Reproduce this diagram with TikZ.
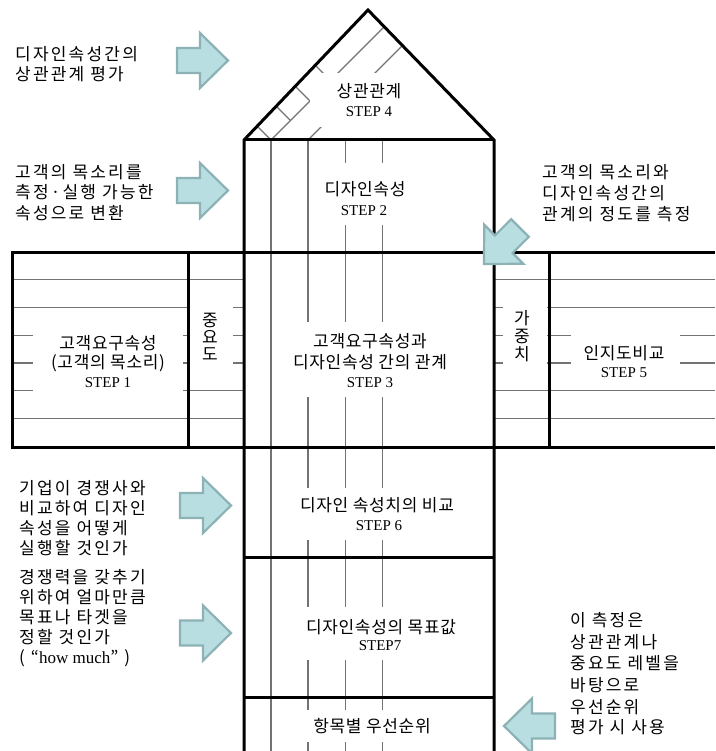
\documentclass[tikz,border=0pt]{standalone}
\usepackage{fontspec}
\newfontfamily\krlbl[LetterSpace=4]{Noto Sans CJK KR}
\newfontfamily\krnote[LetterSpace=13]{Noto Sans CJK KR}
\newfontfamily\serifstep{Liberation Serif}
\definecolor{arrowfill}{RGB}{185,222,225}
\definecolor{arrowline}{RGB}{140,178,181}
\begin{document}
\begin{tikzpicture}[x=1pt,y=-1pt,
  gridline/.style={line width=1.1pt, draw=black!55},
  wall/.style={line width=3pt, draw=black},
  mask/.style={fill=white},
  lbl/.style={font=\krlbl\fontsize{17}{17}\selectfont, inner sep=0pt, anchor=base},
  steplbl/.style={font=\serifstep\fontsize{15}{15}\selectfont, inner sep=0pt, anchor=base},
  note/.style={font=\krnote\fontsize{17}{17}\selectfont, inner sep=0pt, anchor=base west},
  arrowbody/.style={fill=arrowfill, draw=arrowline, line width=2.2pt},
  pics/blockarrow/.style={code={\draw[arrowbody] (0,-12.5) -- (23,-12.5) -- (23,-27.5) -- (51,0) -- (23,27.5) -- (23,12.5) -- (0,12.5) -- cycle;}}
]
\useasboundingbox (0,0) rectangle (715,751);
\fill[white] (0,0) rectangle (715,751);

% thin grid lines
\foreach \x in {271,308,345.5,382.5} \draw[gridline] (\x,140) -- (\x,751);
\foreach \y in {279.5,307.3,335.2,363,390.8,418.7} {
  \draw[gridline] (12,\y) -- (244,\y);
  \draw[gridline] (494,\y) -- (715,\y);
}
% roof grid
\draw[gridline] (271,140) -- (384.24,26.76);
\draw[gridline] (308,140) -- (402.45,45.55);
\draw[gridline] (271,140) -- (257.18,126.18);
\draw[gridline] (290.5,120.5) -- (276.22,106.22);
\draw[gridline] (310,101) -- (295.26,86.26);
\draw[gridline] (330.5,80.5) -- (315.28,65.28);

% white masks behind labels
\fill[mask] (310,73) rectangle (430,127);
\fill[mask] (318,163) rectangle (412,225);
\fill[mask] (292,322) rectangle (450,397);
\fill[mask] (33,318) rectangle (183,400);
\fill[mask] (190,298) rectangle (233,385);
\fill[mask] (503,298) rectangle (547,385);
\fill[mask] (571,320) rectangle (680,385);
\fill[mask] (290,488) rectangle (465,540);
\fill[mask] (295,607) rectangle (468,660);
\fill[mask] (300,710) rectangle (445,742);

% thick walls
\draw[wall] (244,751) -- (244,140) -- (368,10) -- (494,140) -- (494,751);
\draw[wall] (244,140) -- (494,140);
\draw[wall] (715,252) -- (12,252) -- (12,447) -- (715,447);
\draw[wall] (188,252) -- (188,447);
\draw[wall] (549,252) -- (549,447);
\draw[wall] (244,557) -- (494,557);
\draw[wall] (244,697) -- (494,697);

% diagram labels
\node[lbl] (roofa) at (369,98) {상관관계};
\node[steplbl] (roofb) at (369,117) {STEP 4};
\node[lbl] (dsa) at (365,196) {디자인속성};
\node[steplbl] (dsb) at (364,215) {STEP 2};
\node[lbl] (rela) at (370,347) {고객요구속성과};
\node[lbl] (relb) at (370,368) {디자인속성 간의 관계};
\node[steplbl] (relc) at (370,387) {STEP 3};
\node[lbl] (cra) at (108,349) {고객요구속성};
\node[lbl] (crb) at (108,368) {(고객의 목소리)};
\node[steplbl] (crc) at (108,387) {STEP 1};
\node[lbl] (imp1) at (210,326) {중};
\node[lbl] (imp2) at (210,343) {요};
\node[lbl] (imp3) at (210,360) {도};
\node[lbl] (wt1) at (522,324) {가};
\node[lbl] (wt2) at (522,342) {중};
\node[lbl] (wt3) at (522,360) {치};
\node[lbl] (pca) at (624,359) {인지도비교};
\node[steplbl] (pcb) at (624,377) {STEP 5};
\node[lbl] (cmpa) at (377,511) {디자인 속성치의 비교};
\node[steplbl] (cmpb) at (379,530) {STEP 6};
\node[lbl] (tga) at (381,633) {디자인속성의 목표값};
\node[steplbl] (tgb) at (380,650) {STEP7};
\node[lbl] (pri) at (372,732) {항목별 우선순위};

% left notes
\node[note] (n1a) at (15,61) {디자인속성간의};
\node[note] (n1b) at (15,81) {상관관계 평가};
\node[note] (n2a) at (15,179) {고객의 목소리를};
\node[note] (n2b) at (15,199) {측정·실행 가능한};
\node[note] (n2c) at (15,219) {속성으로 변환};
\node[note] (n3a) at (19,494) {기업이 경쟁사와};
\node[note] (n3b) at (19,514) {비교하여 디자인};
\node[note] (n3c) at (19,534) {속성을 어떻게};
\node[note] (n3d) at (19,554) {실행할 것인가};
\node[note] (n4a) at (19,583) {경쟁력을 갖추기};
\node[note] (n4b) at (19,603) {위하여 얼마만큼};
\node[note] (n4c) at (19,623) {목표나 타겟을};
\node[note] (n4d) at (19,643) {정할 것인가};
\node[note] (n4e) at (19,663) {( “{\serifstep how much}” )};

% right notes
\node[note] (n5a) at (542,179) {고객의 목소리와};
\node[note] (n5b) at (542,200) {디자인속성간의};
\node[note] (n5c) at (542,221) {관계의 정도를 측정};
\node[note] (n6a) at (570,626) {이 측정은};
\node[note] (n6b) at (570,648) {상관관계나};
\node[note] (n6c) at (570,669) {중요도 레벨을};
\node[note] (n6d) at (570,691) {바탕으로};
\node[note] (n6e) at (570,713) {우선순위};
\node[note] (n6f) at (570,733) {평가 시 사용};

% block arrows
\pic at (177,60.5) {blockarrow};
\pic at (177,190.5) {blockarrow};
\pic at (180,505.5) {blockarrow};
\pic at (180,633) {blockarrow};
\pic[rotate=225] at (520,228) {blockarrow};
\pic[rotate=180] at (555,726) {blockarrow};
\end{tikzpicture}
\end{document}
